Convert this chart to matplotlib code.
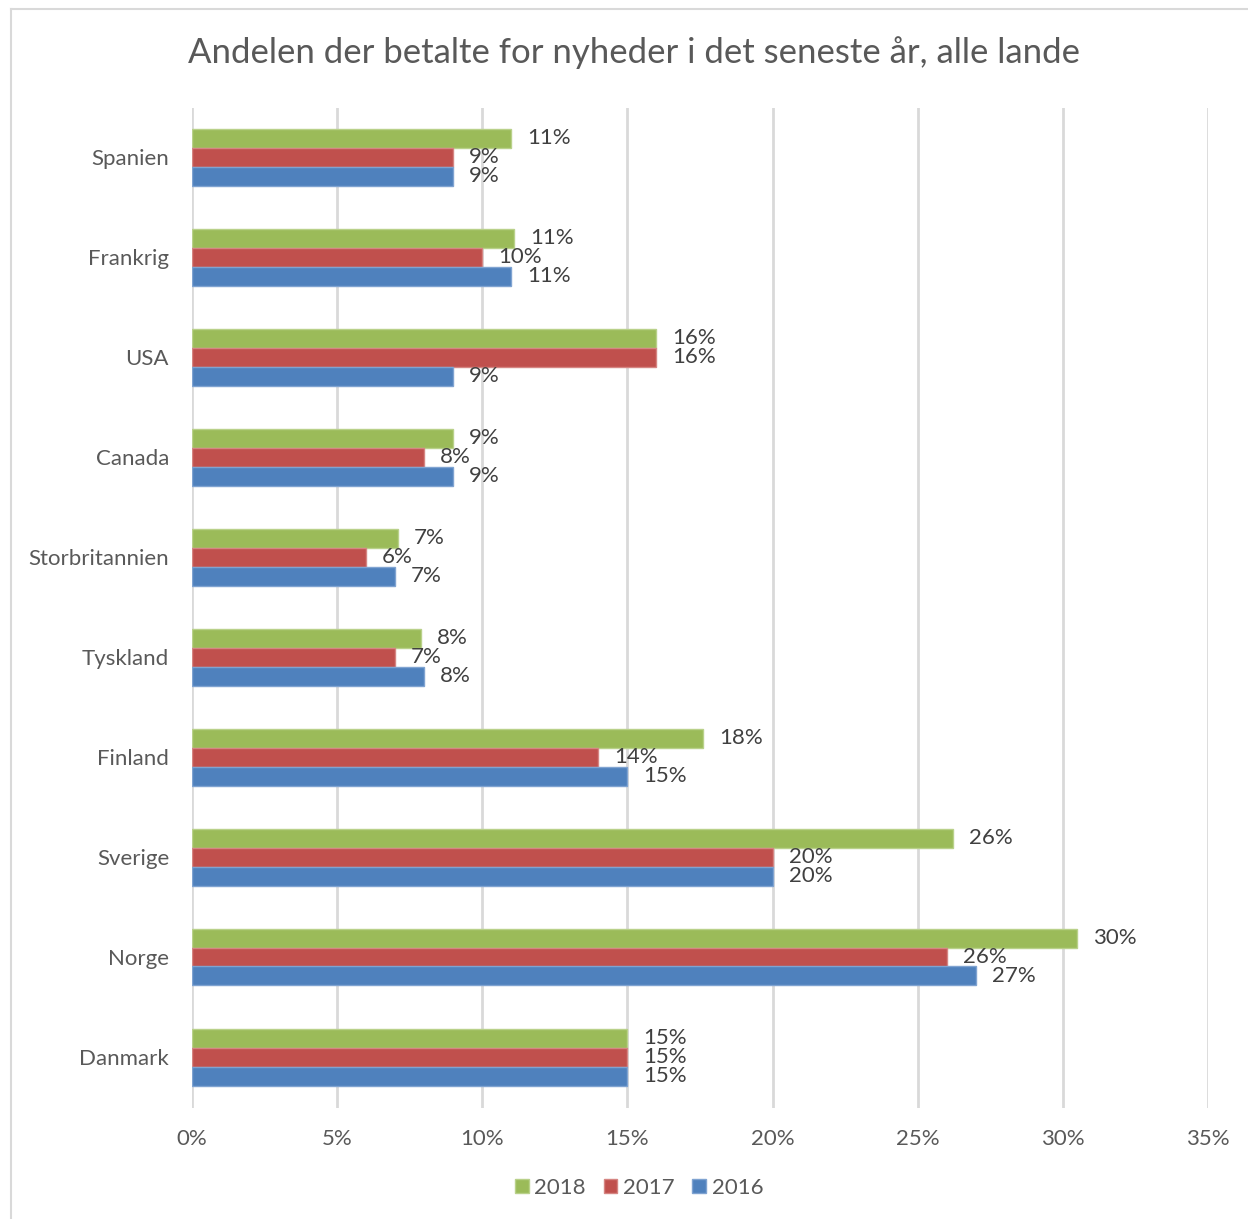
import matplotlib.pyplot as plt
from matplotlib.lines import Line2D
from matplotlib.ticker import FuncFormatter
import numpy as np

plt.rcParams['font.family'] = ['Lato', 'DejaVu Sans']

countries = ['Spanien', 'Frankrig', 'USA', 'Canada', 'Storbritannien',
             'Tyskland', 'Finland', 'Sverige', 'Norge', 'Danmark']
years = ['2018', '2017', '2016']
share_2018 = [11.0, 11.1, 16.0, 9.0, 7.1, 7.9, 17.6, 26.2, 30.5, 15.0]
share_2017 = [9.0, 10.0, 16.0, 8.0, 6.0, 7.0, 14.0, 20.0, 26.0, 15.0]
share_2016 = [9.0, 11.0, 9.0, 9.0, 7.0, 8.0, 15.0, 20.0, 27.0, 15.0]
colors = ['#9BBB59', '#C0504D', '#4F81BD']
edges = ['#B9D18A', '#D58582', '#7FA3D1']

W, H = 1248, 1219
fig = plt.figure(figsize=(W / 100, H / 100), dpi=100)
ax = fig.add_axes([192 / W, 1 - 1108 / H, 1016 / W, 1000 / H])

# chart frame (top and left edges)
fig.add_artist(Line2D([11 / W, 1], [1 - 9 / H, 1 - 9 / H],
                      transform=fig.transFigure, color='#D9D9D9', lw=1.5))
fig.add_artist(Line2D([11 / W, 11 / W], [1 - 9 / H, 0],
                      transform=fig.transFigure, color='#D9D9D9', lw=1.5))

y = np.arange(len(countries))
h = 0.19
series = [share_2018, share_2017, share_2016]
for i, (vals, col, ec, yr) in enumerate(zip(series, colors, edges, years)):
    pos = y + (i - 1) * h - 0.01
    ax.barh(pos, vals, height=h, color=col, edgecolor=ec, linewidth=1,
            label=yr, zorder=3)
    for p, v in zip(pos, vals):
        ax.annotate(f'{v:.0f}%', (v, p), xytext=(11.5, 0),
                    textcoords='offset points', va='center', ha='left',
                    fontsize=16, color='#404040')

ax.set_xlim(0, 35)
ax.set_ylim(9.5, -0.5)
ax.set_xticks(range(0, 36, 5))
ax.xaxis.set_major_formatter(FuncFormatter(lambda v, _: f'{v:.0f}%'))
ax.set_yticks(y - 0.01)
ax.set_yticklabels(countries)
ax.tick_params(length=0, labelsize=16, labelcolor='#595959')
ax.tick_params(axis='x', pad=15)
ax.tick_params(axis='y', pad=16.5)
ax.grid(axis='x', color='#D9D9D9', linewidth=2, zorder=0)
for s in ax.spines.values():
    s.set_visible(False)

fig.text(634 / W, 1 - 53 / H,
         'Andelen der betalte for nyheder i det seneste år, alle lande',
         fontsize=25, color='#595959', ha='center', va='center')

handles, labels = ax.get_legend_handles_labels()
fig.legend(handles, labels, loc='center', bbox_to_anchor=(639 / W, 1 - 1188 / H),
           ncol=3, frameon=False, fontsize=16, handlelength=0.62,
           handleheight=0.62, handletextpad=0.25, columnspacing=0.8,
           labelcolor='#595959')

fig.savefig('out.png', dpi=100)
